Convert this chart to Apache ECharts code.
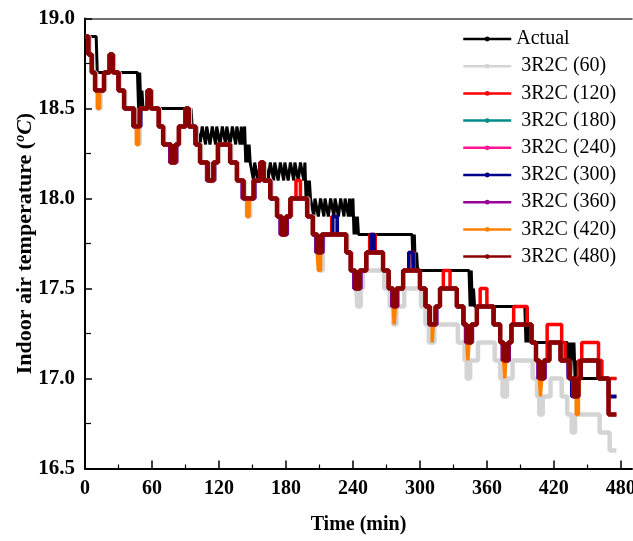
<!DOCTYPE html>
<html>
<head>
<meta charset="utf-8">
<script src="https://cdn.jsdelivr.net/npm/echarts@6/dist/echarts.min.js"></script>
<style>html,body{margin:0;padding:0;background:#fff}#c{width:633px;height:541px}</style>
</head>
<body>
<div id="c"></div>
<script>
// ---------- data (time in min, temperature in °C) ----------
const xTickValues = [0, 60, 120, 180, 240, 300, 360, 420, 480];
const xMinorTickValues = [30, 90, 150, 210, 270, 330, 390, 450];
const seriesNames = ['Actual', ' 3R2C (60)', ' 3R2C (120)', ' 3R2C (180)', ' 3R2C (240)', ' 3R2C (300)', ' 3R2C (360)', ' 3R2C (420)', ' 3R2C (480)'];

// measured temperature (drawn as a plain polyline)
const actualT = [0,10,11,47,48,49,50,51,52,93,94,95,96,98,
  99,100,101,103,104,105,106,108,109,110,112,113,114,115,117,118,119,121,122,123,124,126,127,128,130,131,132,133,135,136,137,139,140,141,142,143,144,145,146,147,148,
  149,151,152,153,155,156,157,158,160,161,162,164,165,166,167,169,170,171,173,174,175,176,178,179,180,182,183,184,185,187,188,189,191,192,193,194,196,197,198,199,200,201,202,
  203,205,206,207,209,210,211,212,214,215,216,218,219,220,221,223,224,225,227,228,229,230,232,233,234,236,237,238,239,240,241,242,243,244,245,
  293,294,295,296,297,298,344,345,346,347,348,349,394,395,396,397,398,399,432,433,434,435,436,437,438,439,440,441,442,443,444,445,476];
const actualV = [18.9,18.9,18.7,18.7,18.5,18.7,18.5,18.6,18.5,18.5,18.4,18.5,18.4,18.4,
  18.3,18.4,18.4,18.3,18.3,18.4,18.4,18.3,18.4,18.4,18.3,18.3,18.4,18.4,18.3,18.4,18.4,18.3,18.3,18.4,18.4,18.3,18.4,18.4,18.3,18.3,18.4,18.4,18.3,18.4,18.4,18.3,18.4,18.3,18.3,18.4,18.2,18.3,18.2,18.3,18.2,
  18.2,18.1,18.2,18.2,18.1,18.1,18.2,18.2,18.1,18.2,18.2,18.1,18.1,18.2,18.2,18.1,18.2,18.2,18.1,18.1,18.2,18.2,18.1,18.2,18.2,18.1,18.1,18.2,18.2,18.1,18.2,18.2,18.1,18.1,18.2,18.2,18.1,18.2,18.0,18.1,18.0,18.1,18.0,
  18.0,17.9,18.0,18.0,17.9,17.9,18.0,18.0,17.9,18.0,18.0,17.9,17.9,18.0,18.0,17.9,18.0,18.0,17.9,17.9,18.0,18.0,17.9,18.0,18.0,17.9,18.0,17.9,17.9,18.0,17.8,17.9,17.8,17.9,17.8,
  17.8,17.6,17.8,17.6,17.7,17.6,17.6,17.4,17.6,17.4,17.5,17.4,17.4,17.2,17.4,17.2,17.3,17.2,17.2,17.0,17.2,17.0,17.2,17.1,17.2,17.0,17.1,17.0,17.1,17.0,17.1,17.0,17.0];

// model outputs: value holds from each time until the next one
const m60T = [0,4,7,10,12,14,18,23,26,31,36,45,47,49,50,57,60,67,71,78,82,85,91,94,100,104,111,116,120,131,137,143,145,148,152,158,161,167,173,177,181,185,200,205,209,211,213,214,235,239,243,244,247,249,253,268,273,276,279,286,301,305,308,313,334,340,342,345,352,367,372,374,378,383,401,405,407,410,417,427,432,436,439,461,470,476];
const m60V = [18.9,18.8,18.7,18.6,18.5,18.6,18.7,18.8,18.7,18.6,18.5,18.4,18.3,18.4,18.5,18.6,18.5,18.4,18.3,18.2,18.3,18.4,18.5,18.4,18.3,18.2,18.1,18.2,18.3,18.2,18.1,18.0,17.9,18.0,18.1,18.2,18.1,18.0,17.9,17.8,17.9,18.0,17.9,17.8,17.7,17.6,17.7,17.8,17.7,17.6,17.5,17.4,17.5,17.6,17.6,17.5,17.4,17.3,17.4,17.5,17.4,17.3,17.2,17.3,17.2,17.1,17.0,17.1,17.2,17.1,17.0,16.9,17.0,17.1,17.0,16.9,16.8,16.9,17.0,16.9,16.8,16.7,16.8,16.7,16.6,16.6];

const m120T = [0,3,6,9,17,22,25,30,35,44,49,56,59,66,70,77,81,84,90,93,99,103,110,115,119,130,136,142,151,157,160,166,172,176,180,184,189,193,199,204,208,212,221,226,234,238,242,246,252,255,260,267,272,276,279,285,290,295,300,305,309,314,318,321,327,333,339,342,346,351,354,360,366,372,375,379,382,384,396,400,404,407,411,414,427,430,434,442,445,460,463,476];
const m120V = [18.9,18.8,18.7,18.6,18.7,18.8,18.7,18.6,18.5,18.4,18.5,18.6,18.5,18.4,18.3,18.2,18.3,18.4,18.5,18.4,18.3,18.2,18.1,18.2,18.3,18.2,18.1,18.0,18.1,18.2,18.1,18.0,17.9,17.8,17.9,18.0,18.1,18.0,17.9,17.8,17.7,17.8,17.9,17.8,17.7,17.6,17.5,17.6,17.7,17.8,17.7,17.6,17.5,17.4,17.5,17.6,17.7,17.6,17.5,17.4,17.3,17.4,17.5,17.6,17.5,17.4,17.3,17.2,17.3,17.4,17.5,17.4,17.3,17.2,17.1,17.2,17.3,17.4,17.3,17.2,17.1,17.0,17.1,17.3,17.2,17.1,17.0,17.1,17.2,17.1,17.0,17.0];

const m180T = [0,3,6,9,17,22,25,30,35,44,49,56,59,66,70,77,81,84,90,93,99,103,110,115,119,130,136,142,151,157,160,166,172,176,180,184,199,204,208,212,234,238,242,246,252,267,272,276,279,285,300,305,309,314,318,333,339,342,346,351,366,372,375,379,382,400,404,407,411,416,426,434,438,442,444,460,469,476];
const m180V = [18.9,18.8,18.7,18.6,18.7,18.8,18.7,18.6,18.5,18.4,18.5,18.6,18.5,18.4,18.3,18.2,18.3,18.4,18.5,18.4,18.3,18.2,18.1,18.2,18.3,18.2,18.1,18.0,18.1,18.2,18.1,18.0,17.9,17.8,17.9,18.0,17.9,17.8,17.7,17.8,17.7,17.6,17.5,17.6,17.7,17.6,17.5,17.4,17.5,17.6,17.5,17.4,17.3,17.4,17.5,17.4,17.3,17.2,17.3,17.4,17.3,17.2,17.1,17.2,17.3,17.2,17.1,17.0,17.1,17.2,17.1,17.0,16.9,17.0,17.1,17.0,16.9,16.9];

const m240T = [0,3,6,9,17,22,25,30,35,43,49,56,59,66,70,76,81,84,90,93,99,103,109,115,119,130,136,141,151,157,160,166,172,175,180,184,199,204,207,212,234,238,241,246,252,267,272,275,279,285,300,305,308,314,318,333,339,341,346,351,366,372,374,379,382,400,404,406,411,416,426,434,437,442,444,460,469,476];
const m240V = [18.9,18.8,18.7,18.6,18.7,18.8,18.7,18.6,18.5,18.4,18.5,18.6,18.5,18.4,18.3,18.2,18.3,18.4,18.5,18.4,18.3,18.2,18.1,18.2,18.3,18.2,18.1,18.0,18.1,18.2,18.1,18.0,17.9,17.8,17.9,18.0,17.9,17.8,17.7,17.8,17.7,17.6,17.5,17.6,17.7,17.6,17.5,17.4,17.5,17.6,17.5,17.4,17.3,17.4,17.5,17.4,17.3,17.2,17.3,17.4,17.3,17.2,17.1,17.2,17.3,17.2,17.1,17.0,17.1,17.2,17.1,17.0,16.9,17.0,17.1,17.0,16.9,16.9];

const m300T = [0,3,6,9,17,22,25,30,35,43,50,56,59,66,70,76,82,84,90,93,99,103,109,116,119,130,136,141,152,157,160,166,172,175,181,184,199,204,207,213,222,226,234,238,241,247,252,256,259,267,272,275,280,285,290,294,300,305,308,315,318,333,339,341,347,351,366,372,374,380,382,400,404,406,412,416,426,433,436,442,444,460,469,476];
const m300V = [18.9,18.8,18.7,18.6,18.7,18.8,18.7,18.6,18.5,18.4,18.5,18.6,18.5,18.4,18.3,18.2,18.3,18.4,18.5,18.4,18.3,18.2,18.1,18.2,18.3,18.2,18.1,18.0,18.1,18.2,18.1,18.0,17.9,17.8,17.9,18.0,17.9,17.8,17.7,17.8,17.9,17.8,17.7,17.6,17.5,17.6,17.7,17.8,17.7,17.6,17.5,17.4,17.5,17.6,17.7,17.6,17.5,17.4,17.3,17.4,17.5,17.4,17.3,17.2,17.3,17.4,17.3,17.2,17.1,17.2,17.3,17.2,17.1,17.0,17.1,17.2,17.1,17.0,16.9,17.0,17.1,17.0,16.9,16.9];

const m360T = [0,3,6,9,17,22,25,30,35,43,49,56,59,66,70,76,82,84,90,93,99,103,109,116,119,130,136,141,152,157,160,166,172,175,181,184,199,204,207,213,234,238,241,247,252,267,272,275,280,285,300,305,308,315,318,333,339,341,347,351,366,372,374,380,382,400,404,406,412,416,426,433,437,442,444,460,469,476];
const m360V = [18.9,18.8,18.7,18.6,18.7,18.8,18.7,18.6,18.5,18.4,18.5,18.6,18.5,18.4,18.3,18.2,18.3,18.4,18.5,18.4,18.3,18.2,18.1,18.2,18.3,18.2,18.1,18.0,18.1,18.2,18.1,18.0,17.9,17.8,17.9,18.0,17.9,17.8,17.7,17.8,17.7,17.6,17.5,17.6,17.7,17.6,17.5,17.4,17.5,17.6,17.5,17.4,17.3,17.4,17.5,17.4,17.3,17.2,17.3,17.4,17.3,17.2,17.1,17.2,17.3,17.2,17.1,17.0,17.1,17.2,17.1,17.0,16.9,17.0,17.1,17.0,16.8,16.8];

const m420T = [0,3,6,9,11,13,17,22,25,30,35,44,46,48,49,56,59,66,70,77,81,84,90,93,99,103,110,115,119,130,136,142,145,147,151,157,160,166,172,176,180,184,199,204,208,209,211,212,234,238,242,246,252,267,272,276,277,278,279,285,300,305,309,311,312,314,318,333,339,342,343,344,346,351,366,372,375,376,377,379,382,400,404,407,408,409,411,416,426,434,438,440,442,443,444,460,469,476];
const m420V = [18.9,18.8,18.7,18.6,18.5,18.6,18.7,18.8,18.7,18.6,18.5,18.4,18.3,18.4,18.5,18.6,18.5,18.4,18.3,18.2,18.3,18.4,18.5,18.4,18.3,18.2,18.1,18.2,18.3,18.2,18.1,18.0,17.9,18.0,18.1,18.2,18.1,18.0,17.9,17.8,17.9,18.0,17.9,17.8,17.7,17.6,17.7,17.8,17.7,17.6,17.5,17.6,17.7,17.6,17.5,17.4,17.3,17.4,17.5,17.6,17.5,17.4,17.3,17.2,17.3,17.4,17.5,17.4,17.3,17.2,17.1,17.2,17.3,17.4,17.3,17.2,17.1,17.0,17.1,17.2,17.3,17.2,17.1,17.0,16.9,17.0,17.1,17.2,17.1,17.0,16.9,16.8,16.9,17.0,17.1,17.0,16.8,16.8];

const m480T = [0,3,6,9,17,22,25,30,35,44,49,56,59,66,70,77,81,84,90,93,99,103,110,115,119,130,136,142,151,157,160,166,172,176,180,184,199,204,208,212,234,238,242,246,252,267,272,276,279,285,300,305,309,314,318,333,339,342,346,351,366,372,375,379,382,400,404,407,411,416,426,434,438,442,444,460,469,476];
const m480V = [18.9,18.8,18.7,18.6,18.7,18.8,18.7,18.6,18.5,18.4,18.5,18.6,18.5,18.4,18.3,18.2,18.3,18.4,18.5,18.4,18.3,18.2,18.1,18.2,18.3,18.2,18.1,18.0,18.1,18.2,18.1,18.0,17.9,17.8,17.9,18.0,17.9,17.8,17.7,17.8,17.7,17.6,17.5,17.6,17.7,17.6,17.5,17.4,17.5,17.6,17.5,17.4,17.3,17.4,17.5,17.4,17.3,17.2,17.3,17.4,17.3,17.2,17.1,17.2,17.3,17.2,17.1,17.0,17.1,17.2,17.1,17.0,16.9,17.0,17.1,17.0,16.8,16.8];

// ---------- chart ----------
const FONT = 'Liberation Serif';
const pair = (T, V) => T.map((t, i) => [t, V[i]]);
const seriesData = [
  {T: actualT, V: actualV, color: '#000000', width: 3, step: false},
  {T: m60T, V: m60V, color: '#d4d4d4', width: 4.5, step: 'end'},
  {T: m120T, V: m120V, color: '#ff0000', width: 3.5, step: 'end'},
  {T: m180T, V: m180V, color: '#008b8b', width: 3.5, step: 'end'},
  {T: m240T, V: m240V, color: '#ff1493', width: 3.5, step: 'end'},
  {T: m300T, V: m300V, color: '#00008b', width: 3.5, step: 'end'},
  {T: m360T, V: m360V, color: '#990099', width: 3.5, step: 'end'},
  {T: m420T, V: m420V, color: '#ff8000', width: 3.5, step: 'end'},
  {T: m480T, V: m480V, color: '#8b0000', width: 4.5, step: 'end'}
];

const chart = echarts.init(document.getElementById('c'), null, {renderer: 'canvas'});
const xCommon = {type: 'value', min: 0, max: 490, gridIndex: 0, splitLine: {show: false}};
chart.setOption({
  animation: false,
  backgroundColor: '#ffffff',
  grid: {left: 85, top: 18.5, width: 547, height: 450, containLabel: false, outerBoundsMode: 'none'},
  legend: {
    orient: 'vertical', left: 457, top: 24, itemWidth: 48, itemHeight: 6, itemGap: 7.2,
    textStyle: {fontFamily: FONT, fontSize: 20, color: '#000'},
    lineStyle: {width: 2.5},
    data: seriesNames
  },
  xAxis: [
    Object.assign({}, xCommon, {
      position: 'bottom',
      axisLine: {show: true, onZero: false, lineStyle: {color: '#000', width: 2}},
      axisTick: {show: true, inside: true, length: 8, customValues: xTickValues, lineStyle: {color: '#000', width: 1.5}},
      axisLabel: {customValues: xTickValues, fontFamily: FONT, fontWeight: 'bold', fontSize: 20, color: '#000', margin: 10},
      name: 'Time (min)', nameLocation: 'middle', nameGap: 46, nameMoveOverlap: false,
      nameTextStyle: {fontFamily: FONT, fontWeight: 'bold', fontSize: 20, color: '#000'}
    }),
    Object.assign({}, xCommon, {
      position: 'bottom',
      axisLine: {show: false, onZero: false},
      axisTick: {show: true, inside: true, length: 4, customValues: xMinorTickValues, lineStyle: {color: '#000', width: 1.2}},
      axisLabel: {show: false}
    }),
    Object.assign({}, xCommon, {
      position: 'top',
      axisLine: {show: true, onZero: false, lineStyle: {color: '#444', width: 1.5}},
      axisTick: {show: false},
      axisLabel: {show: false}
    })
  ],
  yAxis: {
    type: 'value', min: 16.5, max: 19.0, interval: 0.5,
    axisLine: {show: true, onZero: false, lineStyle: {color: '#000', width: 2}},
    axisTick: {show: true, inside: true, length: 7, lineStyle: {color: '#000', width: 1.5}},
    minorTick: {show: true, splitNumber: 2, length: 6, lineStyle: {color: '#000', width: 1.2}},
    splitLine: {show: false},
    axisLabel: {formatter: v => v.toFixed(1), fontFamily: FONT, fontWeight: 'bold', fontSize: 21, color: '#000', margin: 10},
    name: '{t|Indoor air temperature (}{s|o}{c|C}{t|)}',
    nameLocation: 'middle', nameGap: 48, nameRotate: 90, nameMoveOverlap: false,
    nameTextStyle: {
      rich: {
        t: {fontFamily: FONT, fontWeight: 'bold', fontSize: 22, color: '#000', lineHeight: 24},
        s: {fontFamily: FONT, fontWeight: 'bold', fontStyle: 'italic', fontSize: 14, color: '#000', verticalAlign: 'top', lineHeight: 24, padding: [0, 0, 10, 0]},
        c: {fontFamily: FONT, fontWeight: 'bold', fontStyle: 'italic', fontSize: 22, color: '#000', lineHeight: 24}
      }
    }
  },
  series: seriesData.map((s, i) => ({
    name: seriesNames[i],
    type: 'line',
    xAxisIndex: 0,
    step: s.step,
    data: pair(s.T, s.V),
    showSymbol: false,
    symbol: 'circle',
    symbolSize: 5,
    color: s.color,
    lineStyle: {color: s.color, width: s.width},
    itemStyle: {color: s.color},
    z: 2 + i
  }))
});
</script>
</body>
</html>
